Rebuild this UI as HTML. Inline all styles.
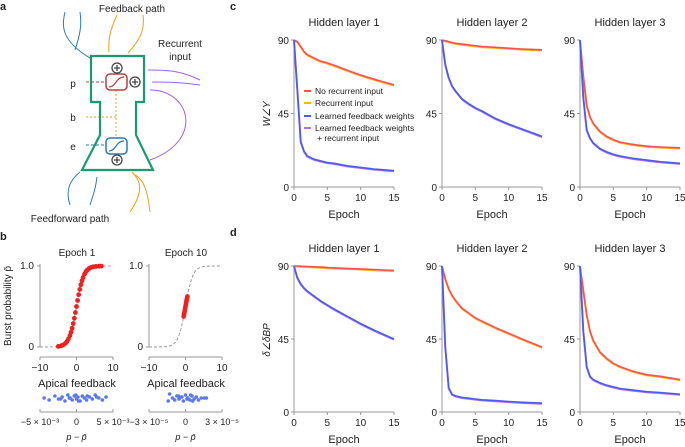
<!DOCTYPE html>
<html><head><meta charset="utf-8">
<style>
body{margin:0;background:#fff;}
svg{display:block;font-family:"Liberation Sans",sans-serif;}
</style></head>
<body>
<svg id="fig" width="685" height="447" viewBox="0 0 685 447">
<g font-size="10" fill="#222">
<text x="0" y="10" font-weight="bold" font-size="11">a</text>
<text x="132" y="12" text-anchor="middle">Feedback path</text>
<text x="180" y="47" text-anchor="middle">Recurrent</text>
<text x="180" y="60" text-anchor="middle">input</text>
<text x="70" y="222" text-anchor="middle">Feedforward path</text>
<text x="73" y="87" text-anchor="middle">p</text>
<text x="73" y="121" text-anchor="middle">b</text>
<text x="73" y="150" text-anchor="middle">e</text>
<g fill="none" stroke-width="1">
<path d="M90 58 C60 40 62 25 65 12 M75 50 C80 35 82 25 80 12" stroke="#2a7ab5"/>
<path d="M117 15 C110 30 108 40 109 52 M143 15 C145 30 140 40 128 53" stroke="#e8a020"/>
<path d="M200 80 C180 70 165 70 148 70 M200 85 C180 82 165 82 152 82 M150 90 C190 90 205 140 150 160" stroke="#a060e8"/>
<path d="M70 205 C65 190 70 180 80 172 M90 205 C95 190 96 185 97 177" stroke="#2a7ab5"/>
<path d="M132 172 C140 180 145 190 130 212 M135 175 C145 180 148 195 150 212" stroke="#e8a020"/>
<path d="M104 82 L86 82" stroke="#b84040" stroke-dasharray="3,2"/>
<path d="M116 90 L116 138 M116 117 L86 117" stroke="#e8a020" stroke-dasharray="2,2"/>
<path d="M104 145 L86 145" stroke="#2a7ab5" stroke-dasharray="3,2"/>
<polygon points="91,56 144,56 144,102 136,102 136,135 153,170 82,170 100,135 100,102 91,102" stroke="#1a9a70" stroke-width="2.2"/>
<rect x="106" y="74" width="21" height="16" rx="4" stroke="#b84040" stroke-width="1.5"/>
<path d="M109 87 C116 87 116 77 124 77" stroke="#b84040" stroke-width="1.3"/>
<rect x="106" y="138" width="21" height="16" rx="4" stroke="#2a7ab5" stroke-width="1.5"/>
<path d="M109 151 C116 151 116 141 124 141" stroke="#2a7ab5" stroke-width="1.3"/>
<g stroke="#444" stroke-width="1.3">
<circle cx="117" cy="68" r="5"/><circle cx="135" cy="82" r="5"/><circle cx="117" cy="160" r="5"/>
<path d="M114 68h6M117 65v6M132 82h6M135 79v6M114 160h6M117 157v6"/>
</g>
</g>
</g>
<g id="panelb" font-size="10" fill="#222"></g>
<g id="panelc" font-size="10" fill="#222"></g>
</svg>
<script>
const NS="http://www.w3.org/2000/svg";
function el(p,t,a){const e=document.createElementNS(NS,t);for(const k in a)e.setAttribute(k,a[k]);p.appendChild(e);return e;}
function txt(p,x,y,s,anchor,extra){const e=el(p,'text',Object.assign({x:x,y:y,'text-anchor':anchor||'middle'},extra||{}));e.textContent=s;return e;}

// ---- Panel b data ----
const epoch1Points=[-5,-4.2,-3.6,-3,-2.6,-2.2,-1.8,-1.5,-1.2,-0.9,-0.6,-0.3,0,0.3,0.6,0.9,1.2,1.5,1.8,2.2,2.6,3,3.5,4,4.6,5.3,6.2,6.8];
const epoch10Points=[-0.5,-0.4,-0.3,-0.2,-0.1,0,0.1,0.2,0.3,0.4,0.5];
const strip1=[-4.5,-3.8,-3,-2.5,-2,-1.6,-1.2,-0.9,-0.6,-0.3,0,0.2,0.5,0.8,1.1,1.4,1.8,2.2,2.6,3.1,3.6,4.1,-1,0.3,1.5,-2.2,2.8,-0.1];
const strip1y=[0,2,-2,1,-1,3,-3,0,2,-2,1,-1,3,-2,0,2,-1,1,-3,0,2,-1,0,3,-2,1,-1,-3];
const strip10=[-2.4,-2.2,-1.8,-1.5,-1.2,-0.9,-0.6,-0.3,0,0.3,0.6,0.9,1.2,1.5,1.8,2.2,2.6,-1,0.2,1,-0.5,0.7,2.9];
const strip10y=[3,-4,0,2,-2,1,-1,3,-3,0,2,-2,1,-1,2,0,0,-2,1,3,-1,-3,0];

const b=document.getElementById('panelb');
txt(b,0,240,'b','start',{'font-weight':'bold','font-size':'11'});
const yl=el(b,'text',{x:0,y:0,'text-anchor':'middle',transform:'translate(11,306) rotate(-90)'});yl.textContent='Burst probability p̄';


function panelB(x0,title,pts,strip,stripy,lo,hi){
  const sx=v=>x0+(v+10)/20*73, sy=v=>347-v*81;
  const t=txt(b,x0+37,256,title);
  
  
  el(b,'path',{d:`M${x0} 264V347M${x0-3} 266H${x0}M${x0-3} 347H${x0}M${x0} 357H${x0+73}M${x0} 357v3M${x0+36.5} 357v3M${x0+73} 357v3`,stroke:'#999',fill:'none'});
  txt(b,x0-6,269,'1.0','end');txt(b,x0-6,350,'0','end');
  txt(b,x0,371,'−10');txt(b,x0+36.5,371,'0');txt(b,x0+73,371,'10');
  txt(b,x0+37,387,'Apical feedback',null,{'font-size':'11'});
  let d='';for(let v=-10;v<=10.01;v+=0.25){d+=(d?'L':'M')+sx(v).toFixed(1)+' '+sy(1/(1+Math.exp(-v))).toFixed(1);}
  el(b,'path',{d:d,stroke:'#999',fill:'none','stroke-dasharray':'3,2'});
  pts.forEach(v=>{const c=el(b,'circle',{cx:sx(v),cy:sy(1/(1+Math.exp(-v))),r:2.4,fill:'#f02020'});
    
    });
  strip.forEach((v,i)=>{const c=el(b,'circle',{cx:x0+36.5+v/5*36,cy:398+stripy[i],r:1.8,fill:'#5a78f0'});
    
    });
  el(b,'path',{d:`M${x0} 412H${x0+73}M${x0} 412v-3M${x0+36.5} 412v-3M${x0+73} 412v-3`,stroke:'#999',fill:'none'});
  txt(b,x0,425,lo,null,{'font-size':'9'});txt(b,x0+36.5,425,'0',null,{'font-size':'9'});txt(b,x0+73,425,hi,null,{'font-size':'9'});
  txt(b,x0+36.5,440,'p − p̄',null,{'font-style':'italic','font-size':'9'});
}
panelB(40,'Epoch 1',epoch1Points,strip1,strip1y,'−5 × 10⁻³','5 × 10⁻³');
panelB(149,'Epoch 10',epoch10Points,strip10,strip10y,'−3 × 10⁻⁵','3 × 10⁻⁵');

// ---- Panels c & d data ----
const epochs=[0,0.5,1,1.5,2,3,4,5,6,8,10,12,15];
const cRed1=[90,89,86,83,81,79,77,76,74.5,71.5,68.5,66,62.5];
const cBlue1=[90,60,28,22,19,17,16,15,14.5,13,12,11,10];
const cRed2=[90,89.5,89,88.5,88,87.5,87,86.5,86,85.5,85,84.5,84];
const cBlue2=[90,75,67,62,59,54,51,48.5,46.5,42,38.5,35.5,31];
const cRed3=[90,68,50,43,39,34,31,29,27.5,26,25,24.5,24];
const cBlue3=[90,55,35,30,27,23.5,21.5,20,19,17.5,16.5,15.5,14.5];
const dRed1=[90,90,89.9,89.8,89.7,89.5,89.3,89,88.8,88.5,88.2,87.8,87.3];
const dBlue1=[90,83,79,76.5,74.5,71.5,68.5,66,63.5,59,54.5,50.5,45];
const dRed2=[90,82,76,72,69,64,61,58,56,52,48.5,45,40];
const dBlue2=[90,40,15,11,10,9,8.5,8,7.5,7,6.5,6,5.5];
const dRed3=[90,75,60,50,44,37,33,30,28,25,23,22,20];
const dBlue3=[90,50,28,22,20,18,16.5,15.5,14.5,13.5,12.5,12,11];
const xTicks=[0,5,10,15];
const yTicks=[0,45,90];
const legendLabels=['No recurrent input','Recurrent input','Learned feedback weights','Learned feedback weights','+ recurrent input'];

const c=document.getElementById('panelc');
txt(c,230,10,'c','start',{'font-weight':'bold','font-size':'11'});
txt(c,230,236,'d','start',{'font-weight':'bold','font-size':'11'});
function lineChart(x0,y90,y0,title,red,blue,name){
  const sx=v=>x0+v/15*100, sy=v=>y0-v/90*(y0-y90);
  const g=el(c,'g',{});
  
  
  txt(g,x0+50,y90-14,title,null,{'font-size':'11'});
  el(g,'path',{d:`M${x0} ${y90}V${y0}H${x0+100}`,stroke:'#999',fill:'none'});
  yTicks.forEach(t=>{el(g,'path',{d:`M${x0-3} ${sy(t)}H${x0}`,stroke:'#999'});txt(g,x0-5,sy(t)+4,String(t),'end');});
  xTicks.forEach(t=>{el(g,'path',{d:`M${sx(t)} ${y0}v3`,stroke:'#999'});txt(g,sx(t),y0+14,String(t));});
  txt(g,x0+50,y0+31,'Epoch',null,{'font-size':'11'});
  const mk=a=>a.map((v,i)=>(i?'L':'M')+sx(epochs[i]).toFixed(1)+' '+sy(v).toFixed(1)).join('');
  [['#ffb020',0.6,'recurrent-line',2],['#ff5050',0,'no-recurrent-line',1.6],['#b070f0',0.6,'learned-recurrent-line',2],['#4a5cf0',0,'learned-line',1.6]].forEach((s,k)=>{
    const arr=k<2?red:blue;const p=el(g,'path',{d:mk(arr),stroke:s[0],'stroke-width':s[3],fill:'none',transform:`translate(0,${s[1]})`,'stroke-linejoin':'round'});
    
    
  });
}
lineChart(294,40,187,'Hidden layer 1',cRed1,cBlue1,'c-hidden-layer-1');
lineChart(442,40,187,'Hidden layer 2',cRed2,cBlue2,'c-hidden-layer-2');
lineChart(580,40,187,'Hidden layer 3',cRed3,cBlue3,'c-hidden-layer-3');
lineChart(294,266,412,'Hidden layer 1',dRed1,dBlue1,'d-hidden-layer-1');
lineChart(442,266,412,'Hidden layer 2',dRed2,dBlue2,'d-hidden-layer-2');
lineChart(580,266,412,'Hidden layer 3',dRed3,dBlue3,'d-hidden-layer-3');
const yc=el(c,'text',{x:0,y:0,'text-anchor':'middle',transform:'translate(270,114) rotate(-90)','font-style':'italic'});yc.textContent='W∠Y';


const yd=el(c,'text',{x:0,y:0,'text-anchor':'middle',transform:'translate(270,340) rotate(-90)','font-style':'italic'});yd.textContent='δ∠δBP';


const lg=el(c,'g',{'font-size':'8.5'});


const lc=['#ff5050','#ffb020','#4a5cf0','#b070f0',null];
const ly=[94,106,119,131,141];
legendLabels.forEach((s,i)=>{
  if(lc[i])el(lg,'path',{d:`M304 ${ly[i]-3}h7`,stroke:lc[i],'stroke-width':2});
  const t=txt(lg,i==4?317:315,ly[i],s,'start');
  
  
});
</script>
</body></html>
